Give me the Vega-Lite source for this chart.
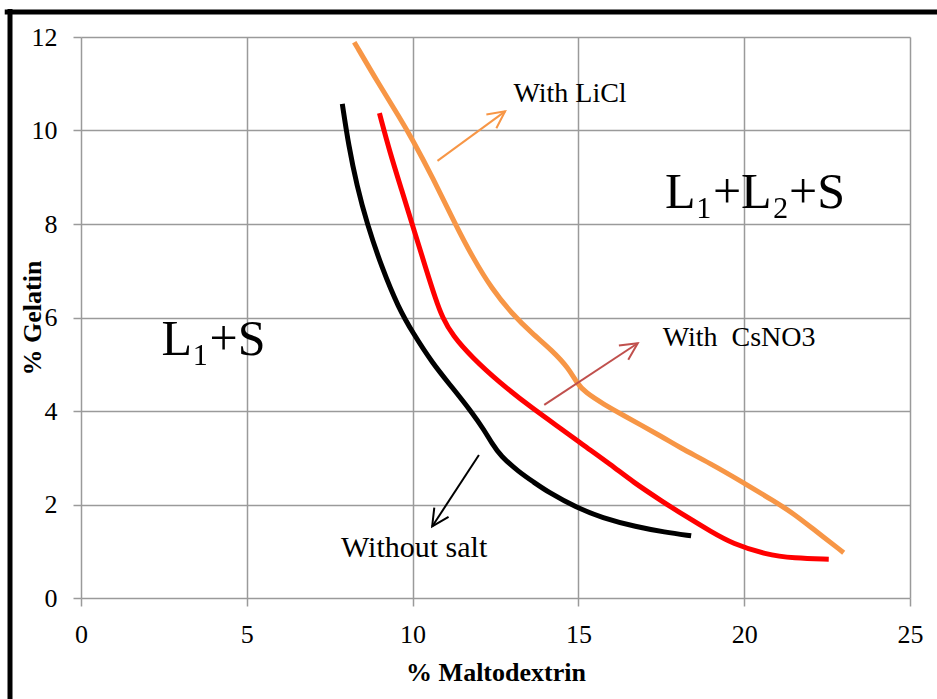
{
  "$schema": "https://vega.github.io/schema/vega-lite/v6.json",
  "width": 829,
  "height": 561,
  "autosize": "none",
  "padding": {"left": 81, "top": 37, "right": 27, "bottom": 101},
  "background": "white",
  "config": {"view": {"stroke": null}, "font": "Liberation Serif"},
  "datasets": {
    "curves": [
      {"salt": "Without salt", "maltodextrin": 7.88, "gelatin": 10.57},
      {"salt": "Without salt", "maltodextrin": 8.07, "gelatin": 9.68},
      {"salt": "Without salt", "maltodextrin": 8.32, "gelatin": 8.82},
      {"salt": "Without salt", "maltodextrin": 8.62, "gelatin": 8.02},
      {"salt": "Without salt", "maltodextrin": 9.08, "gelatin": 7.05},
      {"salt": "Without salt", "maltodextrin": 9.58, "gelatin": 6.2},
      {"salt": "Without salt", "maltodextrin": 10.0, "gelatin": 5.68},
      {"salt": "Without salt", "maltodextrin": 10.6, "gelatin": 5.02},
      {"salt": "Without salt", "maltodextrin": 11.2, "gelatin": 4.5},
      {"salt": "Without salt", "maltodextrin": 11.8, "gelatin": 3.96},
      {"salt": "Without salt", "maltodextrin": 12.15, "gelatin": 3.6},
      {"salt": "Without salt", "maltodextrin": 12.4, "gelatin": 3.3},
      {"salt": "Without salt", "maltodextrin": 12.65, "gelatin": 3.04},
      {"salt": "Without salt", "maltodextrin": 13.2, "gelatin": 2.7},
      {"salt": "Without salt", "maltodextrin": 13.65, "gelatin": 2.48},
      {"salt": "Without salt", "maltodextrin": 14.1, "gelatin": 2.26},
      {"salt": "Without salt", "maltodextrin": 14.95, "gelatin": 1.93},
      {"salt": "Without salt", "maltodextrin": 15.7, "gelatin": 1.72},
      {"salt": "Without salt", "maltodextrin": 16.75, "gelatin": 1.52},
      {"salt": "Without salt", "maltodextrin": 17.6, "gelatin": 1.41},
      {"salt": "Without salt", "maltodextrin": 18.4, "gelatin": 1.33},

      {"salt": "With CsNO3", "maltodextrin": 9.0, "gelatin": 10.37},
      {"salt": "With CsNO3", "maltodextrin": 9.32, "gelatin": 9.52},
      {"salt": "With CsNO3", "maltodextrin": 9.67, "gelatin": 8.73},
      {"salt": "With CsNO3", "maltodextrin": 10.05, "gelatin": 7.85},
      {"salt": "With CsNO3", "maltodextrin": 10.4, "gelatin": 7.05},
      {"salt": "With CsNO3", "maltodextrin": 10.7, "gelatin": 6.38},
      {"salt": "With CsNO3", "maltodextrin": 10.9, "gelatin": 6.0},
      {"salt": "With CsNO3", "maltodextrin": 11.2, "gelatin": 5.62},
      {"salt": "With CsNO3", "maltodextrin": 11.8, "gelatin": 5.14},
      {"salt": "With CsNO3", "maltodextrin": 12.6, "gelatin": 4.62},
      {"salt": "With CsNO3", "maltodextrin": 13.62, "gelatin": 4.05},
      {"salt": "With CsNO3", "maltodextrin": 14.62, "gelatin": 3.55},
      {"salt": "With CsNO3", "maltodextrin": 15.05, "gelatin": 3.32},
      {"salt": "With CsNO3", "maltodextrin": 16.0, "gelatin": 2.84},
      {"salt": "With CsNO3", "maltodextrin": 16.65, "gelatin": 2.48},
      {"salt": "With CsNO3", "maltodextrin": 17.5, "gelatin": 2.08},
      {"salt": "With CsNO3", "maltodextrin": 18.25, "gelatin": 1.74},
      {"salt": "With CsNO3", "maltodextrin": 19.0, "gelatin": 1.42},
      {"salt": "With CsNO3", "maltodextrin": 19.65, "gelatin": 1.16},
      {"salt": "With CsNO3", "maltodextrin": 20.65, "gelatin": 0.93},
      {"salt": "With CsNO3", "maltodextrin": 21.5, "gelatin": 0.85},
      {"salt": "With CsNO3", "maltodextrin": 22.55, "gelatin": 0.83},

      {"salt": "With LiCl", "maltodextrin": 8.24, "gelatin": 11.89},
      {"salt": "With LiCl", "maltodextrin": 9.0, "gelatin": 10.97},
      {"salt": "With LiCl", "maltodextrin": 9.6, "gelatin": 10.29},
      {"salt": "With LiCl", "maltodextrin": 10.0, "gelatin": 9.8},
      {"salt": "With LiCl", "maltodextrin": 10.6, "gelatin": 9.0},
      {"salt": "With LiCl", "maltodextrin": 11.3, "gelatin": 7.98},
      {"salt": "With LiCl", "maltodextrin": 11.8, "gelatin": 7.3},
      {"salt": "With LiCl", "maltodextrin": 12.4, "gelatin": 6.6},
      {"salt": "With LiCl", "maltodextrin": 13.0, "gelatin": 6.08},
      {"salt": "With LiCl", "maltodextrin": 13.6, "gelatin": 5.66},
      {"salt": "With LiCl", "maltodextrin": 14.2, "gelatin": 5.3},
      {"salt": "With LiCl", "maltodextrin": 14.7, "gelatin": 4.92},
      {"salt": "With LiCl", "maltodextrin": 14.95, "gelatin": 4.6},
      {"salt": "With LiCl", "maltodextrin": 15.2, "gelatin": 4.4},
      {"salt": "With LiCl", "maltodextrin": 15.8, "gelatin": 4.13},
      {"salt": "With LiCl", "maltodextrin": 16.2, "gelatin": 3.97},
      {"salt": "With LiCl", "maltodextrin": 17.6, "gelatin": 3.42},
      {"salt": "With LiCl", "maltodextrin": 18.0, "gelatin": 3.24},
      {"salt": "With LiCl", "maltodextrin": 19.0, "gelatin": 2.87},
      {"salt": "With LiCl", "maltodextrin": 19.9, "gelatin": 2.5},
      {"salt": "With LiCl", "maltodextrin": 20.9, "gelatin": 2.07},
      {"salt": "With LiCl", "maltodextrin": 21.5, "gelatin": 1.8},
      {"salt": "With LiCl", "maltodextrin": 22.0, "gelatin": 1.52},
      {"salt": "With LiCl", "maltodextrin": 23.0, "gelatin": 0.97}
    ],
    "arrows": [
      {"salt": "Without salt", "maltodextrin": 12.0, "gelatin": 3.06, "maltodextrin_to": 10.59, "gelatin_to": 1.53},
      {"salt": "With CsNO3", "maltodextrin": 13.97, "gelatin": 4.13, "maltodextrin_to": 16.79, "gelatin_to": 5.45},
      {"salt": "With LiCl", "maltodextrin": 10.75, "gelatin": 9.35, "maltodextrin_to": 12.79, "gelatin_to": 10.41}
    ],
    "notes": [
      {"text": "With LiCl", "maltodextrin": 13.04, "gelatin": 10.62},
      {"text": "With\u00a0 CsNO3", "maltodextrin": 17.54, "gelatin": 5.39},
      {"text": "Without salt", "maltodextrin": 7.84, "gelatin": 0.877}
    ],
    "phases": [
      {"text": "L₁+S", "maltodextrin": 2.43, "gelatin": 5.2},
      {"text": "L₁+L₂+S", "maltodextrin": 17.61, "gelatin": 8.34}
    ]
  },
  "layer": [
    {
      "data": {"name": "curves"},
      "mark": {"type": "line", "interpolate": "basis", "strokeWidth": 5, "strokeCap": "butt"},
      "encoding": {
        "x": {
          "field": "maltodextrin",
          "type": "quantitative",
          "scale": {"domain": [0, 25], "nice": false, "zero": false},
          "axis": {
            "values": [0, 5, 10, 15, 20, 25],
            "title": "% Maltodextrin",
            "titleFont": "Liberation Serif",
            "titleFontSize": 26,
            "titleFontWeight": "bold",
            "titleColor": "#000000",
            "titlePadding": 12,
            "labelFont": "Liberation Serif",
            "labelFontSize": 26,
            "labelColor": "#000000",
            "labelPadding": 15,
            "labelFlush": false,
            "labelOverlap": false,
            "tickSize": 8,
            "tickColor": "#9a9a9a",
            "tickWidth": 1.5,
            "grid": true,
            "gridColor": "#9a9a9a",
            "gridWidth": 1.5,
            "domain": false
          }
        },
        "y": {
          "field": "gelatin",
          "type": "quantitative",
          "scale": {"domain": [0, 12], "nice": false, "zero": false},
          "axis": {
            "values": [0, 2, 4, 6, 8, 10, 12],
            "title": "% Gelatin",
            "titleFont": "Liberation Serif",
            "titleFontSize": 26,
            "titleFontWeight": "bold",
            "titleColor": "#000000",
            "titlePadding": -14,
            "labelFont": "Liberation Serif",
            "labelFontSize": 26,
            "labelColor": "#000000",
            "labelPadding": 16,
            "labelFlush": false,
            "labelOverlap": false,
            "tickSize": 8,
            "tickColor": "#9a9a9a",
            "tickWidth": 1.5,
            "grid": true,
            "gridColor": "#9a9a9a",
            "gridWidth": 1.5,
            "domain": false
          }
        },
        "color": {
          "field": "salt",
          "type": "nominal",
          "scale": {"domain": ["Without salt", "With CsNO3", "With LiCl"], "range": ["#000000", "#ff0000", "#f79646"]},
          "legend": null
        }
      }
    },
    {
      "data": {"name": "arrows"},
      "mark": {"type": "rule", "strokeWidth": 2},
      "encoding": {
        "x": {"field": "maltodextrin", "type": "quantitative"},
        "y": {"field": "gelatin", "type": "quantitative"},
        "x2": {"field": "maltodextrin_to"},
        "y2": {"field": "gelatin_to"},
        "stroke": {
          "field": "salt",
          "type": "nominal",
          "scale": {"domain": ["Without salt", "With CsNO3", "With LiCl"], "range": ["#000000", "#c0504d", "#f79646"]},
          "legend": null
        }
      }
    },
    {
      "data": {"name": "arrows"},
      "transform": [{"filter": "datum.salt === 'Without salt'"}],
      "mark": {"type": "point", "shape": "M-1,-0.5L0,0L-1,0.5", "filled": false, "strokeWidth": 2, "size": 1156, "angle": 123, "opacity": 1},
      "encoding": {
        "x": {"field": "maltodextrin_to", "type": "quantitative"},
        "y": {"field": "gelatin_to", "type": "quantitative"},
        "stroke": {"field": "salt", "type": "nominal", "legend": null}
      }
    },
    {
      "data": {"name": "arrows"},
      "transform": [{"filter": "datum.salt === 'With CsNO3'"}],
      "mark": {"type": "point", "shape": "M-1,-0.5L0,0L-1,0.5", "filled": false, "strokeWidth": 2, "size": 1156, "angle": -33.4, "opacity": 1},
      "encoding": {
        "x": {"field": "maltodextrin_to", "type": "quantitative"},
        "y": {"field": "gelatin_to", "type": "quantitative"},
        "stroke": {"field": "salt", "type": "nominal", "legend": null}
      }
    },
    {
      "data": {"name": "arrows"},
      "transform": [{"filter": "datum.salt === 'With LiCl'"}],
      "mark": {"type": "point", "shape": "M-1,-0.5L0,0L-1,0.5", "filled": false, "strokeWidth": 2, "size": 1156, "angle": -36, "opacity": 1},
      "encoding": {
        "x": {"field": "maltodextrin_to", "type": "quantitative"},
        "y": {"field": "gelatin_to", "type": "quantitative"},
        "stroke": {"field": "salt", "type": "nominal", "legend": null}
      }
    },
    {
      "data": {"name": "notes"},
      "transform": [{"filter": "datum.text !== 'Without salt'"}],
      "mark": {"type": "text", "align": "left", "baseline": "alphabetic", "font": "Liberation Serif", "fontSize": 28, "color": "#000000"},
      "encoding": {
        "x": {"field": "maltodextrin", "type": "quantitative"},
        "y": {"field": "gelatin", "type": "quantitative"},
        "text": {"field": "text"}
      }
    },
    {
      "data": {"name": "notes"},
      "transform": [{"filter": "datum.text === 'Without salt'"}],
      "mark": {"type": "text", "align": "left", "baseline": "alphabetic", "font": "Liberation Serif", "fontSize": 30, "color": "#000000"},
      "encoding": {
        "x": {"field": "maltodextrin", "type": "quantitative"},
        "y": {"field": "gelatin", "type": "quantitative"},
        "text": {"field": "text"}
      }
    },
    {
      "data": {"name": "phases"},
      "mark": {"type": "text", "align": "left", "baseline": "alphabetic", "font": "Liberation Serif", "fontSize": 50, "color": "#000000"},
      "encoding": {
        "x": {"field": "maltodextrin", "type": "quantitative"},
        "y": {"field": "gelatin", "type": "quantitative"},
        "text": {"field": "text"}
      }
    },
    {
      "data": {"values": [{}]},
      "mark": {"type": "rule", "strokeWidth": 5, "color": "#000000", "clip": false},
      "encoding": {
        "x": {"datum": -2.3, "type": "quantitative"},
        "x2": {"datum": 26.5},
        "y": {"datum": 12.533, "type": "quantitative"}
      }
    },
    {
      "data": {"values": [{}]},
      "mark": {"type": "rule", "strokeWidth": 5, "color": "#000000", "clip": false},
      "encoding": {
        "x": {"datum": -2.141, "type": "quantitative"},
        "y": {"datum": 12.6, "type": "quantitative"},
        "y2": {"datum": -2.5}
      }
    }
  ]
}
